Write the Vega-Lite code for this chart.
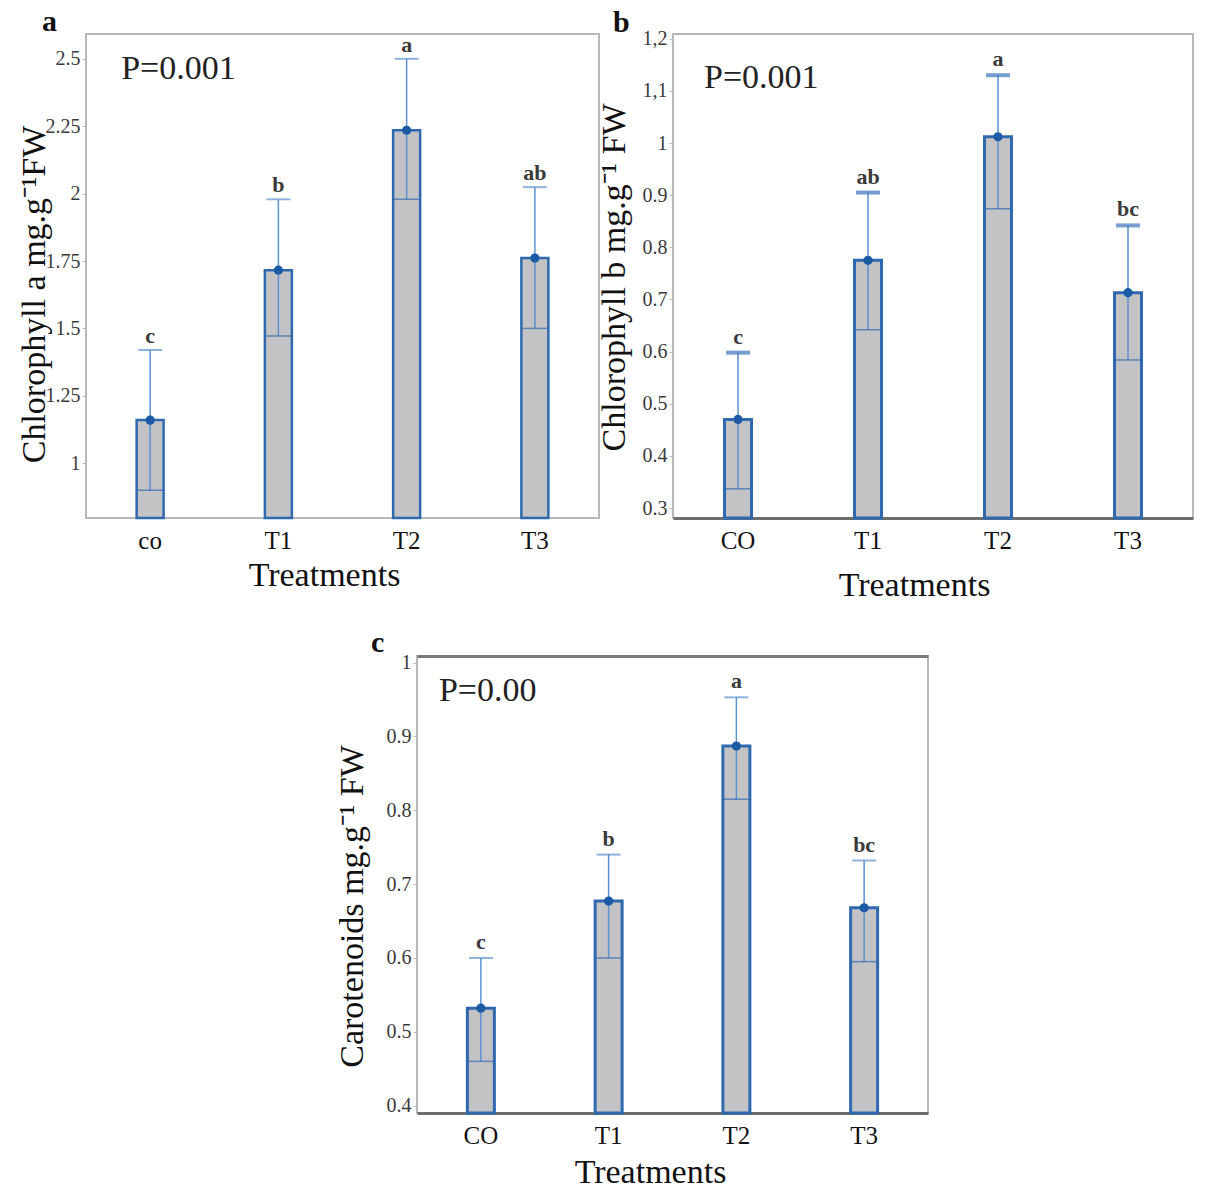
{
  "$schema": "https://vega.github.io/schema/vega-lite/v6.json",
  "padding": {"left": 16, "top": 5, "right": 0, "bottom": 0},
  "background": "white",
  "bounds": "full",
  "spacing": 23,
  "config": {
    "view": {"stroke": "#b8b8b8", "strokeWidth": 2},
    "font": "Liberation Serif",
    "axis": {"grid": false}
  },
  "vconcat": [
    {
      "bounds": "flush",
      "spacing": 74,
      "hconcat": [
        {
          "width": 513,
          "height": 484,
          "title": {"text": "a", "anchor": "start", "frame": "group", "dx": -44, "offset": -27, "fontSize": 30, "font": "Liberation Serif", "fontWeight": "bold", "color": "#111111", "baseline": "alphabetic"},
          "data": {"values": [
            {"trt": "co", "mean": 1.16, "lower": 0.90, "upper": 1.42, "letter": "c"},
            {"trt": "T1", "mean": 1.716, "lower": 1.472, "upper": 1.979, "letter": "b"},
            {"trt": "T2", "mean": 2.235, "lower": 1.979, "upper": 2.50, "letter": "a"},
            {"trt": "T3", "mean": 1.761, "lower": 1.50, "upper": 2.024, "letter": "ab"}
          ]},
          "encoding": {
            "x": {"field": "trt", "type": "nominal", "sort": null,
              "scale": {"paddingInner": 0, "paddingOuter": 0},
              "axis": {"title": "Treatments", "labelAngle": 0, "labelFont": "Liberation Serif", "labelFontSize": 25, "labelColor": "#111111", "labelPadding": 10, "ticks": false, "domain": false,
                "titleFont": "Liberation Serif", "titleFontSize": 34, "titleFontWeight": "normal", "titleColor": "#111111", "titleX": 238, "titleY": 57, "titleBaseline": "middle", "titleAlign": "center"}}
          },
          "layer": [
            {"mark": {"type": "bar", "width": 27, "fill": "#c3c3c6", "stroke": "#2f69b0", "strokeWidth": 2.5},
             "encoding": {
               "y": {"field": "mean", "type": "quantitative",
                 "scale": {"domain": [0.797, 2.592], "zero": false, "nice": false},
                 "axis": {"title": "Chlorophyll a mg.g⁻¹FW", "values": [1, 1.25, 1.5, 1.75, 2, 2.25, 2.5], "labelExpr": "datum.value + ''", "domain": false, "tickSize": 4, "tickColor": "#bbbbbb", "labelFont": "Liberation Serif", "labelFontSize": 20, "labelColor": "#3a3a3a", "labelPadding": 2,
                   "titleFont": "Liberation Serif", "titleFontSize": 34, "titleFontWeight": "normal", "titleColor": "#111111", "titleX": -52, "titleY": 260, "titleAngle": -90, "titleBaseline": "middle", "titleAlign": "center"}},
               "y2": {"datum": 0.797}}},
            {"mark": {"type": "rule", "color": "#5c92cf", "strokeWidth": 1.5},
             "encoding": {"y": {"field": "lower", "type": "quantitative"}, "y2": {"field": "upper"}}},
            {"mark": {"type": "tick", "orient": "horizontal", "size": 24, "thickness": 2, "color": "#5c92cf"},
             "encoding": {"y": {"field": "upper", "type": "quantitative"}}},
            {"mark": {"type": "tick", "orient": "horizontal", "size": 27, "thickness": 1.5, "color": "#2f69b0"},
             "encoding": {"y": {"field": "lower", "type": "quantitative"}}},
            {"mark": {"type": "point", "filled": true, "size": 85, "color": "#1c5aa5", "opacity": 1},
             "encoding": {"y": {"field": "mean", "type": "quantitative"}}},
            {"mark": {"type": "text", "font": "Liberation Serif", "fontWeight": "bold", "fontSize": 22, "color": "#3a3a3a", "baseline": "alphabetic", "dy": -7},
             "encoding": {"y": {"field": "upper", "type": "quantitative"}, "text": {"field": "letter"}}},
            {"data": {"values": [{"label": "P=0.001"}]},
             "mark": {"type": "text", "font": "Liberation Serif", "fontSize": 34, "color": "#222222", "align": "left", "baseline": "middle", "dx": -29},
             "encoding": {"x": {"datum": "co", "type": "nominal"}, "y": {"datum": 2.463, "type": "quantitative"}, "text": {"field": "label"}}}
          ]
        },
        {
          "width": 520,
          "height": 484,
          "title": {"text": "b", "anchor": "start", "frame": "group", "dx": -60, "offset": -33, "fontSize": 30, "font": "Liberation Serif", "fontWeight": "bold", "color": "#111111", "baseline": "alphabetic"},
          "data": {"values": [
            {"trt": "CO", "mean": 0.47, "lower": 0.337, "upper": 0.598, "letter": "c"},
            {"trt": "T1", "mean": 0.775, "lower": 0.642, "upper": 0.905, "letter": "ab"},
            {"trt": "T2", "mean": 1.012, "lower": 0.874, "upper": 1.13, "letter": "a"},
            {"trt": "T3", "mean": 0.713, "lower": 0.584, "upper": 0.842, "letter": "bc"}
          ]},
          "encoding": {
            "x": {"field": "trt", "type": "nominal", "sort": null,
              "scale": {"paddingInner": 0, "paddingOuter": 0},
              "axis": {"title": "Treatments", "labelAngle": 0, "labelFont": "Liberation Serif", "labelFontSize": 25, "labelColor": "#111111", "labelPadding": 10, "ticks": false, "domain": true, "domainColor": "#6e6e6e", "domainWidth": 3,
                "titleFont": "Liberation Serif", "titleFontSize": 34, "titleFontWeight": "normal", "titleColor": "#111111", "titleX": 241, "titleY": 67, "titleBaseline": "middle", "titleAlign": "center"}}
          },
          "layer": [
            {"mark": {"type": "bar", "width": 27, "fill": "#c3c3c6", "stroke": "#2f69b0", "strokeWidth": 3},
             "encoding": {
               "y": {"field": "mean", "type": "quantitative",
                 "scale": {"domain": [0.281, 1.209], "zero": false, "nice": false},
                 "axis": {"title": "Chlorophyll b mg.g⁻¹ FW", "values": [0.3, 0.4, 0.5, 0.6, 0.7, 0.8, 0.9, 1, 1.1, 1.2], "labelExpr": "datum.value == 1.2 ? '1,2' : datum.value == 1.1 ? '1,1' : datum.value + ''", "domain": false, "tickSize": 4, "tickColor": "#bbbbbb", "labelFont": "Liberation Serif", "labelFontSize": 20, "labelColor": "#3a3a3a", "labelPadding": 2,
                   "titleFont": "Liberation Serif", "titleFontSize": 34, "titleFontWeight": "normal", "titleColor": "#111111", "titleX": -59, "titleY": 243, "titleAngle": -90, "titleBaseline": "middle", "titleAlign": "center"}},
               "y2": {"datum": 0.281}}},
            {"mark": {"type": "rule", "color": "#5c92cf", "strokeWidth": 1.5},
             "encoding": {"y": {"field": "lower", "type": "quantitative"}, "y2": {"field": "upper"}}},
            {"mark": {"type": "tick", "orient": "horizontal", "size": 24, "thickness": 4, "color": "#3a74bb"},
             "encoding": {"y": {"field": "upper", "type": "quantitative"}}},
            {"mark": {"type": "tick", "orient": "horizontal", "size": 27, "thickness": 1.5, "color": "#2f69b0"},
             "encoding": {"y": {"field": "lower", "type": "quantitative"}}},
            {"mark": {"type": "point", "filled": true, "size": 85, "color": "#1c5aa5", "opacity": 1},
             "encoding": {"y": {"field": "mean", "type": "quantitative"}}},
            {"mark": {"type": "text", "font": "Liberation Serif", "fontWeight": "bold", "fontSize": 22, "color": "#3a3a3a", "baseline": "alphabetic", "dy": -9},
             "encoding": {"y": {"field": "upper", "type": "quantitative"}, "text": {"field": "letter"}}},
            {"data": {"values": [{"label": "P=0.001"}]},
             "mark": {"type": "text", "font": "Liberation Serif", "fontSize": 34, "color": "#222222", "align": "left", "baseline": "middle", "dx": -34},
             "encoding": {"x": {"datum": "CO", "type": "nominal"}, "y": {"datum": 1.125, "type": "quantitative"}, "text": {"field": "label"}}}
          ]
        }
      ]
    },
    {
      "bounds": "flush",
      "spacing": 74,
      "hconcat": [
        {
          "width": 257,
          "height": 10,
          "view": {"stroke": null},
          "data": {"values": []},
          "mark": "point"
        },
        {
          "width": 511,
          "height": 457,
          "title": {"text": "c", "anchor": "start", "frame": "group", "dx": -46, "offset": -29, "fontSize": 30, "font": "Liberation Serif", "fontWeight": "bold", "color": "#111111", "baseline": "alphabetic"},
          "data": {"values": [
            {"trt": "CO", "mean": 0.532, "lower": 0.46, "upper": 0.60, "letter": "c"},
            {"trt": "T1", "mean": 0.677, "lower": 0.60, "upper": 0.74, "letter": "b"},
            {"trt": "T2", "mean": 0.887, "lower": 0.815, "upper": 0.953, "letter": "a"},
            {"trt": "T3", "mean": 0.668, "lower": 0.595, "upper": 0.732, "letter": "bc"}
          ]},
          "resolve": {"axis": {"x": "independent"}},
          "layer": [
            {"mark": {"type": "bar", "width": 27, "fill": "#c3c3c6", "stroke": "#2f69b0", "strokeWidth": 3},
             "encoding": {
               "x": {"field": "trt", "type": "nominal", "sort": null,
                 "scale": {"paddingInner": 0, "paddingOuter": 0},
                 "axis": {"title": "Treatments", "labelAngle": 0, "labelFont": "Liberation Serif", "labelFontSize": 25, "labelColor": "#111111", "labelPadding": 10, "ticks": false, "domain": true, "domainColor": "#6e6e6e", "domainWidth": 3,
                   "titleFont": "Liberation Serif", "titleFontSize": 34, "titleFontWeight": "normal", "titleColor": "#111111", "titleX": 233, "titleY": 59, "titleBaseline": "middle", "titleAlign": "center"}},
               "y": {"field": "mean", "type": "quantitative",
                 "scale": {"domain": [0.39, 1.009], "zero": false, "nice": false},
                 "axis": {"title": "Carotenoids mg.g⁻¹ FW", "values": [0.4, 0.5, 0.6, 0.7, 0.8, 0.9, 1], "labelExpr": "datum.value + ''", "domain": false, "tickSize": 4, "tickColor": "#bbbbbb", "labelFont": "Liberation Serif", "labelFontSize": 20, "labelColor": "#3a3a3a", "labelPadding": 2,
                   "titleFont": "Liberation Serif", "titleFontSize": 34, "titleFontWeight": "normal", "titleColor": "#111111", "titleX": -65, "titleY": 250, "titleAngle": -90, "titleBaseline": "middle", "titleAlign": "center"}},
               "y2": {"datum": 0.39}}},
            {"mark": {"type": "rule", "color": "#5c92cf", "strokeWidth": 1.5},
             "encoding": {"x": {"field": "trt", "type": "nominal", "sort": null, "axis": null}, "y": {"field": "lower", "type": "quantitative"}, "y2": {"field": "upper"}}},
            {"mark": {"type": "tick", "orient": "horizontal", "size": 24, "thickness": 2, "color": "#5c92cf"},
             "encoding": {"x": {"field": "trt", "type": "nominal", "sort": null, "axis": null}, "y": {"field": "upper", "type": "quantitative"}}},
            {"mark": {"type": "tick", "orient": "horizontal", "size": 27, "thickness": 1.5, "color": "#2f69b0"},
             "encoding": {"x": {"field": "trt", "type": "nominal", "sort": null, "axis": null}, "y": {"field": "lower", "type": "quantitative"}}},
            {"mark": {"type": "point", "filled": true, "size": 85, "color": "#1c5aa5", "opacity": 1},
             "encoding": {"x": {"field": "trt", "type": "nominal", "sort": null, "axis": null}, "y": {"field": "mean", "type": "quantitative"}}},
            {"mark": {"type": "text", "font": "Liberation Serif", "fontWeight": "bold", "fontSize": 22, "color": "#3a3a3a", "baseline": "alphabetic", "dy": -9},
             "encoding": {"x": {"field": "trt", "type": "nominal", "sort": null,
                 "axis": {"orient": "top", "labels": false, "ticks": false, "title": null, "domain": true, "domainColor": "#7a7a7a", "domainWidth": 3}},
               "y": {"field": "upper", "type": "quantitative"}, "text": {"field": "letter"}}},
            {"data": {"values": [{"label": "P=0.00"}]},
             "mark": {"type": "text", "font": "Liberation Serif", "fontSize": 34, "color": "#222222", "align": "left", "baseline": "middle", "dx": -42},
             "encoding": {"x": {"datum": "CO", "type": "nominal", "axis": null}, "y": {"datum": 0.962, "type": "quantitative"}, "text": {"field": "label"}}}
          ]
        }
      ]
    }
  ]
}
